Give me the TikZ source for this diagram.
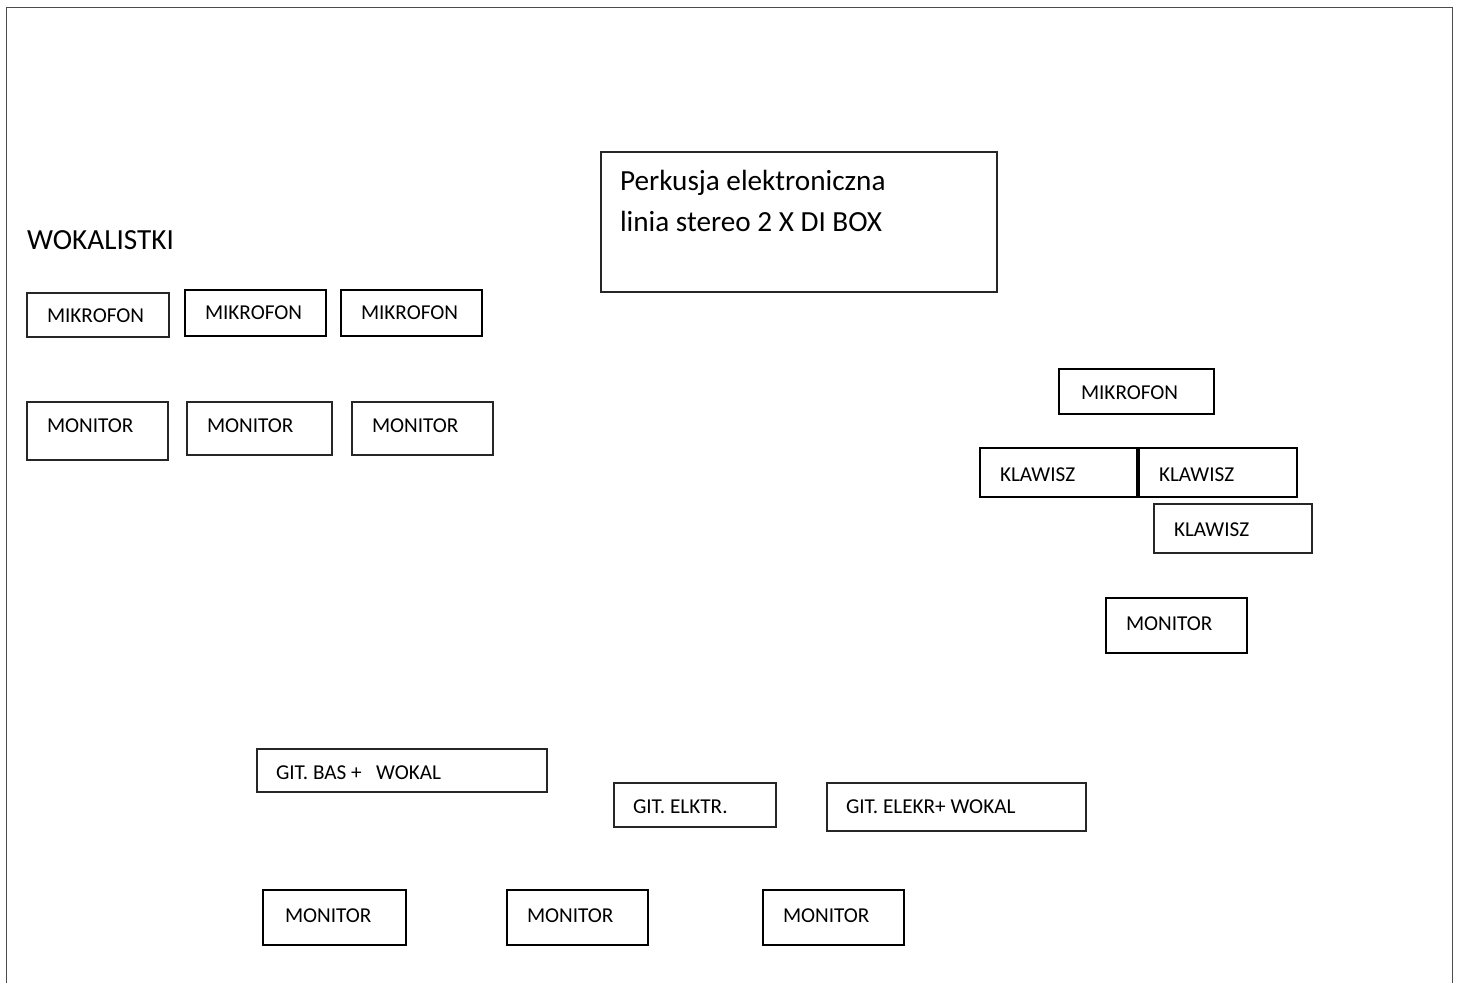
\documentclass[tikz,border=0pt]{standalone}
\usepackage{fontspec}
\setmainfont{Carlito}
\newcommand\myBigFont{\fontsize{29.2}{41}\selectfont}
\newcommand\mySmallFont{\fontsize{21.2}{24}\selectfont}
\begin{document}
\begin{tikzpicture}[x=1pt,y=-1pt,
  thinline/.style={draw=black!85, line width=1.2pt},
  thickline/.style={draw=black, line width=2.2pt},
  bx/.style n args={5}{anchor=north west, inner xsep=#5pt, inner ysep=0pt,
     outer sep=0pt, align=flush left, text width=#1pt-2*#5pt, text height=#3pt, text depth=#4pt,
     font=\mySmallFont},
  bigtext/.style={font=\myBigFont}]
\useasboundingbox (0,0) rectangle (1461,983);
\draw[draw=black!70, line width=1.2pt] (6.5,983) -- (6.5,7.5) -- (1452.5,7.5) -- (1452.5,983);

% drums
\node[bx={396}{140}{38}{102}{19}, thinline, bigtext] (perk) at (601,152)
  {Perkusja elektroniczna\\linia stereo 2 X DI BOX};

% vocalists
\node[bigtext, anchor=base west, inner sep=0pt] (wok) at (27,249) {WOKALISTKI};
\node[bx={142}{44}{29}{15}{20}, thinline] (mik1) at (27,293) {MIKROFON};
\node[bx={141}{46}{29}{17}{20}, thickline] (mik2) at (185,290) {MIKROFON};
\node[bx={141}{46}{29}{17}{20}, thickline] (mik3) at (341,290) {MIKROFON};
\node[bx={141}{58}{30}{28}{20}, thinline] (mon1) at (27,402) {MONITOR};
\node[bx={145}{53}{30}{23}{20}, thinline] (mon2) at (187,402) {MONITOR};
\node[bx={141}{53}{30}{23}{20}, thinline] (mon3) at (352,402) {MONITOR};

% keyboards
\node[bx={155}{45}{30}{15}{22}, thickline] (rmik) at (1059,369) {MIKROFON};
\node[bx={157}{49}{33}{16}{20}, thickline] (kl1) at (980,448) {KLAWISZ};
\node[bx={158}{49}{33}{16}{20}, thickline] (kl2) at (1139,448) {KLAWISZ};
\node[bx={158}{49}{32}{17}{20}, thinline] (kl3) at (1154,504) {KLAWISZ};
\node[bx={141}{55}{32}{23}{20}, thickline] (rmon) at (1106,598) {MONITOR};

% guitars
\node[bx={290}{43}{30}{13}{19}, thinline] (bas) at (257,749) {GIT. BAS +\ \ \ WOKAL};
\node[bx={162}{44}{30}{14}{19}, thinline] (elktr) at (614,783) {GIT. ELKTR.};
\node[bx={259}{48}{30}{18}{19}, thinline] (elekr) at (827,783) {GIT. ELEKR+ WOKAL};
\node[bx={143}{55}{32}{23}{22}, thickline] (bmon1) at (263,890) {MONITOR};
\node[bx={141}{55}{32}{23}{20}, thickline] (bmon2) at (507,890) {MONITOR};
\node[bx={141}{55}{32}{23}{20}, thickline] (bmon3) at (763,890) {MONITOR};
\end{tikzpicture}
\end{document}
